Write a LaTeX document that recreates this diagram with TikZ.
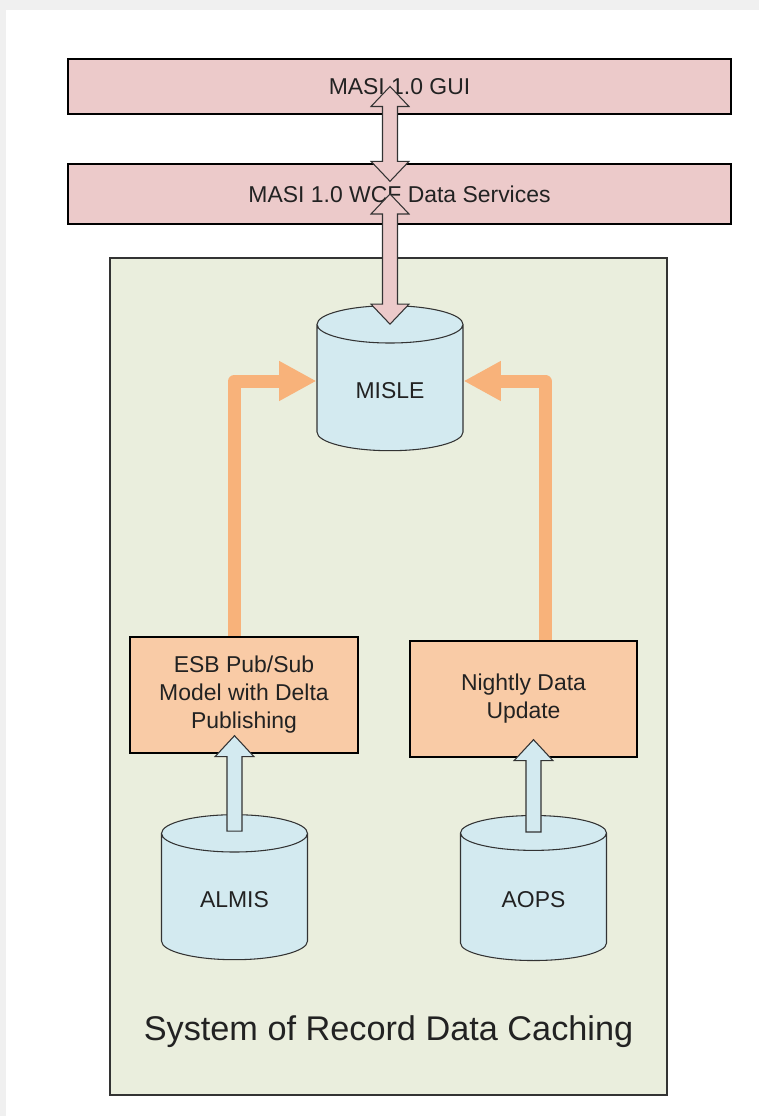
\documentclass[tikz,border=0pt]{standalone}
\usepackage{fontspec}
\setmainfont{Liberation Sans}
\usetikzlibrary{shapes.geometric,arrows.meta,calc}

\definecolor{guipink}{HTML}{ECCACA}
\definecolor{cachegreen}{HTML}{EAEEDD}
\definecolor{dbblue}{HTML}{D3EAF0}
\definecolor{feedpeach}{HTML}{F9CBA6}
\definecolor{feedorange}{HTML}{F8B27A}
\definecolor{inkgray}{HTML}{222222}

% block arrow pointing both ways: #1 style, #2 upper tip, #3 lower tip
\newcommand{\dblarr}[3]{%
  \draw[#1] (#2) -- ($(#2)+(19,20)$) -- ($(#2)+(7.5,20)$) -- ($(#3)+(7.5,-20)$)
    -- ($(#3)+(19,-20)$) -- (#3) -- ($(#3)+(-19,-20)$) -- ($(#3)+(-7.5,-20)$)
    -- ($(#2)+(-7.5,20)$) -- ($(#2)+(-19,20)$) -- cycle;}
% block arrow pointing up: #1 style, #2 foot, #3 tip
\newcommand{\uparr}[3]{%
  \draw[#1] (#3) -- ($(#3)+(19.5,21)$) -- ($(#3)+(7.5,21)$) -- ($(#2)+(7.5,0)$)
    -- ($(#2)+(-7.5,0)$) -- ($(#3)+(-7.5,21)$) -- ($(#3)+(-19.5,21)$) -- cycle;}

\tikzset{
  txt/.style={font=\fontsize{17.2}{21}\selectfont, text=inkgray},
  layer/.style={txt, draw, line width=1pt, fill=guipink, minimum width=497.25pt},
  db/.style={txt, cylinder, shape border rotate=90, aspect=0.48, draw=black!80,
    line width=0.8pt, fill=dbblue, minimum width=109.5pt, minimum height=108.75pt},
  feedbox/.style={txt, draw, line width=1pt, fill=feedpeach, align=center,
    minimum width=171pt, minimum height=87pt},
  feed/.style={draw=feedorange, line width=9.75pt, line join=round,
    -{Triangle[width=28pt,length=28pt]}},
  pinkarr/.style={draw=black!80, line width=0.8pt, fill=guipink},
  bluearr/.style={draw=black!80, line width=0.8pt, fill=dbblue},
}

\begin{document}
\begin{tikzpicture}[x=0.75pt, y=-0.75pt]
\useasboundingbox (0,0) rectangle (759,1116);
\fill[black!6] (0,0) rectangle (759,1116);
\fill[white] (6,10) rectangle (759,1116);

% outer layers
\node[layer, minimum height=41.25pt] (gui) at (399.5,86.5) {MASI 1.0 GUI};
\node[layer, minimum height=45pt] (wcf) at (399.5,194) {MASI 1.0 WCF Data Services};

% caching area
\node[draw=black!80, line width=1pt, fill=cachegreen, minimum width=417.75pt,
  minimum height=627.75pt] (cache) at (388.5,676.5) {};
\node[font=\fontsize{25.7}{30}\selectfont, text=inkgray] (cachelabel)
  at ($(cache.south)+(0,-64)$) {System of Record Data Caching};

\node[db] (misle) at (390,391) {MISLE};
\node[db] (almis) at (234.5,900) {ALMIS};
\node[db] (aops) at (533.5,900) {AOPS};

% orange feeds into MISLE
\draw[feed] (almis |- 0,637) |- ($(misle.west)+(0,-10)$);
\draw[feed] (545,641) |- ($(misle.east)+(0,-10)$);

\node[feedbox] (esb) at (244,695) {ESB Pub/Sub\\Model with Delta\\Publishing};
\node[feedbox, minimum width=170.25pt] (nightly) at (523.5,699) {Nightly Data\\Update};

% block arrows
\dblarr{pinkarr}{misle |- gui.center}{$(misle |- wcf.north)+(0,18)$}
\dblarr{pinkarr}{misle |- wcf.center}{$(misle.top)+(0,19)$}
\uparr{bluearr}{$(almis.top)+(0,17)$}{$(almis |- esb.south)+(0,-18)$}
\uparr{bluearr}{$(aops.top)+(0,17)$}{$(aops |- nightly.south)+(0,-18)$}
\end{tikzpicture}
\end{document}
